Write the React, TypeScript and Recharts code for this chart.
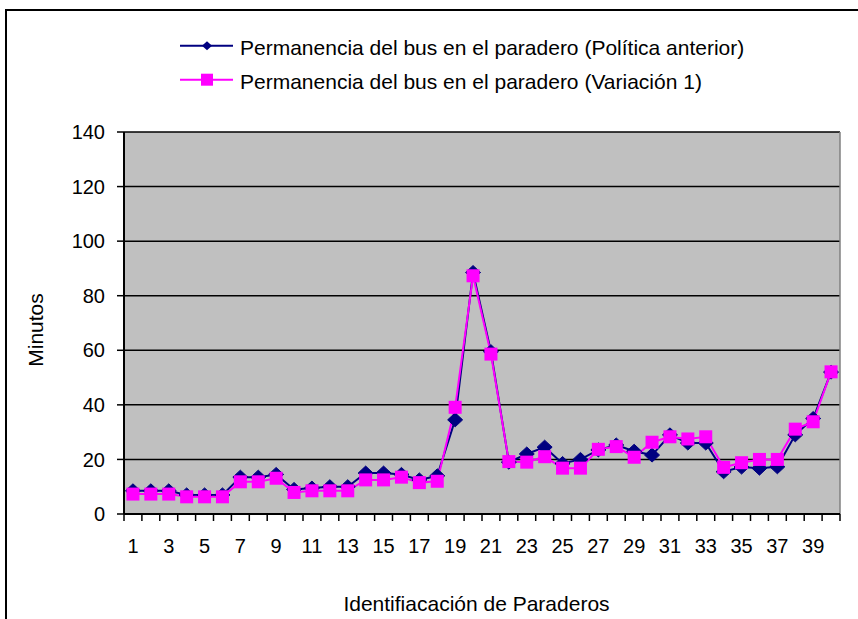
import React from 'react';
import { LineChart, Line, XAxis, YAxis, CartesianGrid, Legend, ReferenceLine } from 'recharts';

const paraderos = [1, 2, 3, 4, 5, 6, 7, 8, 9, 10, 11, 12, 13, 14, 15, 16, 17, 18, 19, 20, 21, 22, 23, 24, 25, 26, 27, 28, 29, 30, 31, 32, 33, 34, 35, 36, 37, 38, 39, 40];
const politicaAnterior = [8.5, 8.5, 8.5, 7, 7, 7, 13.5, 13.5, 14.5, 9, 9.5, 10, 10, 15, 15, 14.5, 12.5, 14, 34.5, 88.5, 59.5, 19, 22, 24.5, 18.5, 20, 23.5, 25.3, 23, 21.6, 29, 26, 26, 15.5, 17.2, 16.8, 17.3, 29, 35, 52];
const variacion1 = [7.3, 7.3, 7.3, 6.3, 6.3, 6.3, 11.8, 11.8, 13.1, 7.9, 8.5, 8.5, 8.5, 12.5, 12.5, 13.5, 11.5, 12, 39.1, 87.3, 58.6, 19.2, 19, 21, 16.8, 16.8, 23.7, 24.7, 20.8, 26.3, 28.3, 27.5, 28.3, 17.1, 18.8, 20, 20, 31.1, 33.8, 52.1];
const yTicks = [0, 20, 40, 60, 80, 100, 120, 140];
const labelTicks = [1, 3, 5, 7, 9, 11, 13, 15, 17, 19, 21, 23, 25, 27, 29, 31, 33, 35, 37, 39];
const boundaryTicks = [0.5, 1.5, 2.5, 3.5, 4.5, 5.5, 6.5, 7.5, 8.5, 9.5, 10.5, 11.5, 12.5, 13.5, 14.5, 15.5, 16.5, 17.5, 18.5, 19.5, 20.5, 21.5, 22.5, 23.5, 24.5, 25.5, 26.5, 27.5, 28.5, 29.5, 30.5, 31.5, 32.5, 33.5, 34.5, 35.5, 36.5, 37.5, 38.5, 39.5, 40.5];
const seriesNames = ['Permanencia del bus en el paradero (Política anterior)', 'Permanencia del bus en el paradero (Variación 1)'];

const data = paraderos.map((p, i) => ({ p, anterior: politicaAnterior[i], variacion: variacion1[i] }));
const xTicks = [...boundaryTicks, ...labelTicks].sort((a, b) => a - b);

const FONT = '"Liberation Sans", Arial, sans-serif';
const NAVY = '#000080';
const PINK = '#FF00FF';

const XTick = (props: any) => {
  const { x, y, payload } = props;
  const v = payload.value;
  if (!Number.isInteger(v)) {
    return <line x1={x} y1={y} x2={x} y2={y + 7} stroke="#000" strokeWidth={1.5} />;
  }
  return (
    <text x={x} y={y + 39} textAnchor="middle" fontSize={20} fill="#000" fontFamily={FONT}>
      {v}
    </text>
  );
};

const DiamondDot = (props: any) => {
  const { cx, cy, index } = props;
  if (cx == null || cy == null) return <g key={`d-${index}`} />;
  const w = 7.5;
  const h = 7;
  return (
    <path
      key={`d-${index}`}
      d={`M${cx},${cy - h} L${cx + w},${cy} L${cx},${cy + h} L${cx - w},${cy} Z`}
      fill={NAVY}
      stroke={NAVY}
    />
  );
};

const SquareDot = (props: any) => {
  const { cx, cy, index } = props;
  if (cx == null || cy == null) return <g key={`s-${index}`} />;
  const s = 6.5;
  return <rect key={`s-${index}`} x={cx - s} y={cy - s} width={2 * s} height={2 * s} fill={PINK} />;
};

const ROW_H = 33.5;

const LegendContent = () => (
  <div style={{ fontFamily: FONT, fontSize: 21, color: '#000' }}>
    {seriesNames.map((name, i) => (
      <div key={name} style={{ position: 'relative', height: ROW_H, lineHeight: `${ROW_H}px`, whiteSpace: 'nowrap' }}>
        <svg width={60} height={ROW_H} style={{ position: 'absolute', left: 0, top: 0 }}>
          <line x1={0} y1={14.7} x2={53} y2={14.7} stroke={i === 0 ? NAVY : PINK} strokeWidth={2} />
          {i === 0 ? (
            <path d="M27,10.2 L32,14.7 L27,19.2 L22,14.7 Z" fill={NAVY} />
          ) : (
            <rect x={21} y={8.7} width={12} height={12} fill={PINK} />
          )}
        </svg>
        <span style={{ position: 'absolute', left: 60, top: 0 }}>{name}</span>
      </div>
    ))}
  </div>
);

export default function App() {
  return (
    <div style={{ position: 'absolute', left: 0, top: 0, width: 858, height: 619, overflow: 'hidden', background: '#fff' }}>
      <div style={{ position: 'absolute', left: 5, top: 9, width: 900, height: 700, border: '2px solid #000', boxSizing: 'border-box' }} />
      <div style={{ position: 'absolute', left: 0, top: 0 }}>
        <LineChart width={858} height={619} data={data} margin={{ top: 132, right: 18, bottom: 0, left: 0 }}>
          <CartesianGrid vertical={false} stroke="#000" strokeWidth={1.5} fill="#C0C0C0" fillOpacity={1} />
          <XAxis
            dataKey="p"
            type="number"
            domain={[0.5, 40.5]}
            ticks={xTicks}
            interval={0}
            tick={<XTick />}
            tickLine={false}
            tickSize={0}
            tickMargin={0}
            height={105}
            axisLine={{ stroke: '#000', strokeWidth: 2 }}
            label={{
              content: () => (
                <text x={476.5} y={611} textAnchor="middle" fontSize={21} fill="#000" fontFamily={FONT}>
                  Identifiacación de Paraderos
                </text>
              ),
            }}
          />
          <YAxis
            type="number"
            domain={[0, 140]}
            ticks={yTicks}
            interval={0}
            width={124}
            tickSize={7}
            tickMargin={12}
            tick={{ fontSize: 20, fill: '#000', fontFamily: FONT }}
            tickLine={{ stroke: '#000', strokeWidth: 1.5 }}
            axisLine={{ stroke: '#000', strokeWidth: 2 }}
            label={{
              content: () => (
                <text x={42.5} y={330} transform="rotate(-90, 42.5, 330)" textAnchor="middle" fontSize={21} fill="#000" fontFamily={FONT}>
                  Minutos
                </text>
              ),
            }}
          />
          <ReferenceLine x={40.5} stroke="#808080" strokeWidth={1.5} />
          <Legend
            layout="vertical"
            align="center"
            verticalAlign="middle"
            content={<LegendContent />}
            wrapperStyle={{ top: 31, left: 180, width: 'auto' }}
          />
          <Line
            type="linear"
            dataKey="anterior"
            name={seriesNames[0]}
            stroke={NAVY}
            strokeWidth={2}
            dot={DiamondDot}
            activeDot={false}
            isAnimationActive={false}
          />
          <Line
            type="linear"
            dataKey="variacion"
            name={seriesNames[1]}
            stroke={PINK}
            strokeWidth={2}
            dot={SquareDot}
            activeDot={false}
            isAnimationActive={false}
          />
        </LineChart>
      </div>
    </div>
  );
}
